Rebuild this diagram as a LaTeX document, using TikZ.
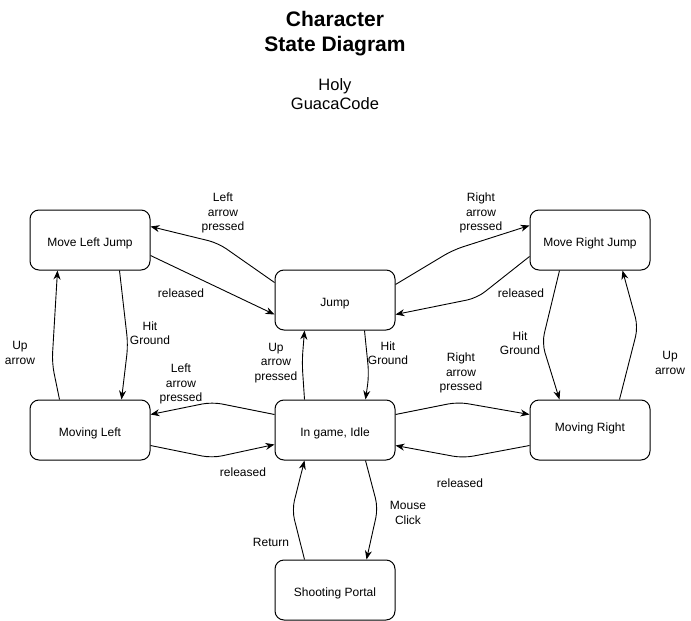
\documentclass[tikz,border=0pt]{standalone}
\usepackage{fontspec}
\setmainfont{Liberation Sans}
\usetikzlibrary{arrows.meta,calc}
\tikzset{
  state/.style={draw, line width=1pt, rounded corners=9pt, minimum width=120pt, minimum height=60pt, inner sep=0pt, text height=15pt, text depth=2pt, font=\fontsize{12}{14.5}\selectfont},
  lbl/.style={align=center, inner sep=0pt, font=\fontsize{12}{14.5}\selectfont},
  edge/.style={draw, line width=0.9pt, rounded corners=10pt, -{Stealth[length=9pt,width=7pt]}}
}
\begin{document}
\begin{tikzpicture}[x=1pt,y=-1pt]
\useasboundingbox (0,0) rectangle (691,621);
% title
\node[lbl, font=\bfseries\fontsize{21}{25}\selectfont] (title) at (335,34) {Character\\State Diagram};
\node[lbl, font=\fontsize{16.5}{19}\selectfont] (sub) at (335,94) {Holy\\GuacaCode};
% states
\node[state] (mlj) at (90,240) {Move Left Jump};
\node[state] (jump) at (335,300) {Jump};
\node[state] (mrj) at (590,240) {Move Right Jump};
\node[state] (ml) at (90,430) {Moving Left};
\node[state] (idle) at (335,430) {In game, Idle};
\node[state] (mr) at (590,430) {\raisebox{5pt}{Moving Right}};
\node[state] (sp) at (335,590) {Shooting Portal};
% edges
\draw[edge] ($(jump.north west)+(0,13)$) -- (218,243) -- ($(mlj.north east)+(0,17)$);
\draw[edge] ($(mlj.north east)+(0,46)$) -- ($(jump.north west)+(0,45)$);
\draw[edge] ($(jump.north east)+(0,15)$) -- (453,250) -- ($(mrj.north west)+(0,16)$);
\draw[edge] ($(mrj.north west)+(0,47)$) -- (477,298) -- ($(jump.north east)+(0,45)$);
\draw[edge] ($(mlj.south west)+(90,0)$) -- (128,345) -- ($(ml.north west)+(92,0)$);
\draw[edge] ($(ml.north west)+(30,0)$) -- (52,363) -- ($(mlj.south west)+(28,0)$);
\draw[edge] ($(idle.north west)+(0,15)$) -- (212,402) -- ($(ml.north east)+(0,15)$);
\draw[edge] ($(ml.north east)+(0,46)$) -- (212,458) -- ($(idle.north west)+(0,45)$);
\draw[edge] ($(idle.north west)+(30,0)$) -- (302,362) -- ($(jump.south west)+(30,0)$);
\draw[edge] ($(jump.south west)+(90,0)$) -- (369,375) -- ($(idle.north west)+(91,0)$);
\draw[edge] ($(idle.north east)+(0,15)$) -- (458,402) -- ($(mr.north west)+(0,15)$);
\draw[edge] ($(mr.north west)+(0,46)$) -- (463,458) -- ($(idle.north east)+(0,46)$);
\draw[edge] ($(mrj.south west)+(30,0)$) -- (542,343) -- ($(mr.north west)+(30,0)$);
\draw[edge] ($(mr.north west)+(90,0)$) -- (638,327) -- ($(mrj.south west)+(93,0)$);
\draw[edge] ($(idle.south west)+(91,0)$) -- (378,508) -- ($(sp.north west)+(92,0)$);
\draw[edge] ($(sp.north west)+(30,0)$) -- (292,510) -- ($(idle.south west)+(30,0)$);
% labels
\node[lbl] (l1) at (223,213) {Left\\arrow\\pressed};
\node[lbl] (l2) at (181,293) {released};
\node[lbl] (l3) at (481,213) {Right\\arrow\\pressed};
\node[lbl] (l4) at (521,293) {released};
\node[lbl] (l5) at (150,333) {Hit\\Ground};
\node[lbl] (l6) at (20,353) {Up\\arrow};
\node[lbl] (l7) at (181,384) {Left\\arrow\\pressed};
\node[lbl] (l8) at (243,472) {released};
\node[lbl] (l9) at (276,363) {Up\\arrow\\pressed};
\node[lbl] (l10) at (388,353) {Hit\\Ground};
\node[lbl] (l11) at (461,373) {Right\\arrow\\pressed};
\node[lbl] (l12) at (460,483) {released};
\node[lbl] (l13) at (520,343) {Hit\\Ground};
\node[lbl] (l14) at (670,363) {Up\\arrow};
\node[lbl] (l15) at (408,513) {Mouse\\Click};
\node[lbl] (l16) at (271,542) {Return};
\end{tikzpicture}
\end{document}
